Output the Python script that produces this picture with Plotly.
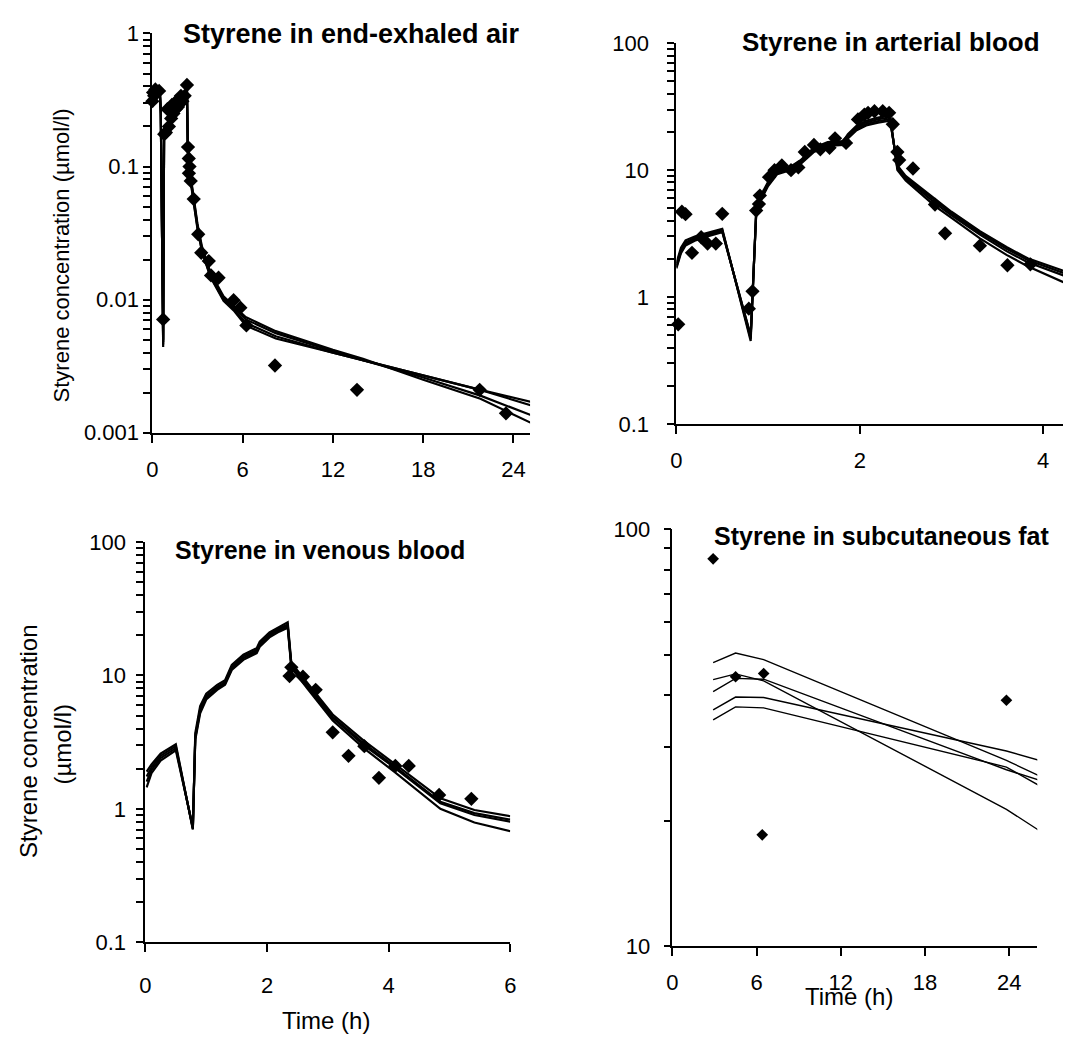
import plotly.graph_objects as go

W, H = 1069, 1048
FONT = "Liberation Sans"

# ---------------- Panel 1: end-exhaled air ----------------
p1_obs_t = [0.0, 0.05, 0.12, 0.2, 0.45, 0.72, 0.79, 0.9, 1.0, 1.1, 1.25, 1.3, 1.4, 1.55, 1.6, 1.7, 1.85, 1.9,
            2.0, 2.15, 2.3, 2.37, 2.42, 2.47, 2.43, 2.55, 2.75, 3.05, 3.25, 3.75, 3.9, 4.4, 5.4, 5.85, 6.25,
            8.15, 13.6, 21.75, 23.5]
p1_obs_v = [0.31, 0.36, 0.34, 0.38, 0.37, 0.0071, 0.175, 0.18, 0.27, 0.2, 0.23, 0.29, 0.25, 0.27, 0.31, 0.28,
            0.30, 0.34, 0.31, 0.34, 0.41, 0.14, 0.115, 0.10, 0.089, 0.078, 0.057, 0.031, 0.0225, 0.0195, 0.0152,
            0.0146, 0.0099, 0.0087, 0.0064, 0.0032, 0.0021, 0.0021, 0.0014]
p1_t = [0, 0.1, 0.3, 0.5, 0.56, 0.72, 0.78, 0.9, 1.2, 1.5, 1.8, 2.1, 2.3, 2.36, 2.5, 2.7, 3.0, 3.3, 3.86,
        4.73, 5.4, 6.2, 8.2, 12, 14, 18, 21.8, 25.2]
p1_a = [0.31, 0.34, 0.37, 0.38, 0.27, 0.0044, 0.18, 0.20, 0.23, 0.27, 0.31, 0.35, 0.39, 0.14, 0.092, 0.064,
        0.037, 0.025, 0.016, 0.0106, 0.0090, 0.0074, 0.0058, 0.0042, 0.0036, 0.0025, 0.0018, 0.00118]
p1_b = [0.30, 0.33, 0.36, 0.37, 0.26, 0.0046, 0.17, 0.19, 0.22, 0.26, 0.30, 0.34, 0.38, 0.135, 0.089, 0.062,
        0.036, 0.024, 0.0155, 0.0103, 0.0088, 0.0071, 0.0056, 0.0041, 0.0035, 0.0026, 0.0019, 0.00135]
p1_c = [0.29, 0.32, 0.35, 0.36, 0.25, 0.0048, 0.17, 0.19, 0.22, 0.26, 0.29, 0.33, 0.37, 0.13, 0.086, 0.060,
        0.035, 0.023, 0.015, 0.0100, 0.0085, 0.0067, 0.0053, 0.0040, 0.0035, 0.0027, 0.0021, 0.0016]
p1_d = [0.28, 0.31, 0.34, 0.35, 0.25, 0.0050, 0.16, 0.18, 0.21, 0.25, 0.29, 0.33, 0.36, 0.13, 0.084, 0.058,
        0.034, 0.023, 0.0148, 0.0098, 0.0083, 0.0064, 0.0051, 0.0040, 0.0035, 0.0027, 0.0021, 0.0017]

# ---------------- Panel 2: arterial blood ----------------
p2_obs_t = [0.02, 0.06, 0.1, 0.17, 0.27, 0.34, 0.43, 0.5, 0.79, 0.83, 0.87, 0.9, 0.91, 1.01, 1.07, 1.15, 1.25,
            1.33, 1.4, 1.5, 1.57, 1.67, 1.73, 1.85, 1.98, 2.05, 2.09, 2.16, 2.25, 2.32, 2.36, 2.41, 2.43, 2.58,
            2.82, 2.93, 3.31, 3.61, 3.86]
p2_obs_v = [0.61, 4.7, 4.5, 2.23, 2.96, 2.64, 2.64, 4.53, 0.81, 1.11, 4.8, 5.4, 6.3, 8.8, 10.0, 10.9, 10.0,
            10.5, 13.9, 15.8, 14.6, 15.0, 17.8, 16.4, 25.1, 27.4, 28.3, 29.1, 29.1, 28.3, 23.0, 13.9, 12.0, 10.3,
            5.35, 3.18, 2.54, 1.78, 1.81]
p2_t = [0, 0.05, 0.1, 0.2, 0.3, 0.4, 0.5, 0.81, 0.87, 0.92, 1.0, 1.1, 1.24, 1.35, 1.5, 1.65, 1.82, 1.87, 1.96,
        2.07, 2.2, 2.33, 2.41, 2.5, 2.6, 2.82, 3.0, 3.31, 3.6, 3.83, 4.22]
p2_a = [1.85, 2.45, 2.8, 3.0, 3.15, 3.3, 3.45, 0.45, 4.8, 6.3, 8.1, 9.9, 10.6, 11.9, 15.0, 16.6, 16.9, 19.2,
        22.2, 24.5, 26.0, 27.0, 10.0, 8.3, 7.2, 5.2, 4.2, 2.9, 2.15, 1.75, 1.31]
p2_b = [1.78, 2.35, 2.7, 2.92, 3.08, 3.22, 3.38, 0.47, 4.6, 6.1, 7.9, 9.7, 10.4, 11.6, 14.6, 16.2, 16.5, 18.7,
        21.6, 23.8, 25.2, 26.0, 10.3, 8.6, 7.5, 5.5, 4.4, 3.1, 2.3, 1.88, 1.48]
p2_c = [1.72, 2.28, 2.62, 2.85, 3.0, 3.15, 3.3, 0.49, 4.5, 5.9, 7.7, 9.5, 10.2, 11.3, 14.2, 15.8, 16.1, 18.2,
        21.0, 23.1, 24.4, 25.2, 10.6, 8.8, 7.7, 5.7, 4.55, 3.2, 2.4, 1.96, 1.55]
p2_d = [1.68, 2.22, 2.55, 2.78, 2.95, 3.1, 3.25, 0.50, 4.4, 5.8, 7.5, 9.3, 10.0, 11.1, 13.9, 15.5, 15.8, 17.8,
        20.5, 22.5, 23.7, 24.5, 10.9, 9.0, 7.9, 5.9, 4.7, 3.3, 2.48, 2.02, 1.61]

# ---------------- Panel 3: venous blood ----------------
p3_obs_t = [2.37, 2.4, 2.59, 2.8, 3.08, 3.34, 3.6, 3.84, 4.11, 4.33, 4.83, 5.36]
p3_obs_v = [9.9, 11.5, 9.8, 7.8, 3.75, 2.5, 2.95, 1.71, 2.1, 2.1, 1.27, 1.19]
p3_t = [0.02, 0.1, 0.25, 0.5, 0.78, 0.82, 0.9, 1.0, 1.18, 1.31, 1.42, 1.61, 1.83, 1.88, 2.04, 2.2, 2.34, 2.4,
        2.67, 3.08, 3.59, 4.09, 4.85, 5.41, 6.0]
p3_a = [1.9, 2.15, 2.6, 3.05, 0.70, 3.7, 5.9, 7.3, 8.5, 9.2, 12.0, 14.3, 16.0, 17.9, 21.0, 23.2, 25.0, 12.4,
        8.7, 5.1, 3.25, 2.2, 1.2, 0.98, 0.88]
p3_b = [1.75, 2.05, 2.5, 2.95, 0.71, 3.5, 5.6, 7.0, 8.2, 8.9, 11.6, 13.9, 15.5, 17.3, 20.4, 22.5, 24.0, 12.0,
        8.4, 4.9, 3.1, 2.1, 1.13, 0.93, 0.83]
p3_c = [1.6, 1.95, 2.4, 2.85, 0.72, 3.4, 5.4, 6.8, 8.0, 8.7, 11.3, 13.5, 15.1, 16.9, 19.9, 21.9, 23.4, 11.7,
        8.2, 4.8, 3.0, 2.05, 1.1, 0.9, 0.8]
p3_d = [1.45, 1.85, 2.3, 2.75, 0.73, 3.3, 5.2, 6.6, 7.8, 8.5, 11.0, 13.1, 14.7, 16.4, 19.3, 21.3, 22.8, 11.4,
        7.9, 4.6, 2.85, 1.9, 1.0, 0.79, 0.68]

# ---------------- Panel 4: subcutaneous fat ----------------
p4_obs_t = [2.9, 4.5, 6.4, 6.5, 23.8]
p4_obs_v = [85.0, 44.3, 18.5, 45.1, 38.9]
p4_t = [2.9, 4.5, 6.5, 23.8, 26.5]
p4_l1 = [47.9, 50.5, 48.7, 27.9, 25.3]
p4_l2 = [43.6, 45.0, 43.3, 21.3, 18.6]
p4_l3 = [40.8, 43.9, 43.7, 26.5, 24.8]
p4_l4 = [36.9, 39.6, 39.5, 29.4, 27.7]
p4_l5 = [34.9, 37.5, 37.3, 26.9, 23.9]

titles = ["Styrene in end-exhaled air", "Styrene in arterial blood",
          "Styrene in venous blood", "Styrene in subcutaneous fat"]
y_label = "Styrene concentration (µmol/l)"
y_label_l1 = "Styrene concentration"
y_label_l2 = "(µmol/l)"
x_label = "Time (h)"

p1_xticks = [0, 6, 12, 18, 24]
p2_xticks = [0, 2, 4]
p3_xticks = [0, 2, 4, 6]
p4_xticks = [0, 6, 12, 18, 24]


def log_ticks(lo_exp, hi_exp, labels):
    vals, text = [], []
    for e in range(lo_exp, hi_exp):
        for m in range(1, 10):
            vals.append(m * 10 ** e)
            text.append(labels[e - lo_exp] if m == 1 else "")
    vals.append(10 ** hi_exp)
    text.append(labels[-1])
    return vals, text


fig = go.Figure()


def px_x(p):
    return p / W


def px_y(p):
    return 1 - p / H


def add_panel(idx, tlist, curves, obs_t, obs_v, lw, msize):
    xa = "x" if idx == 1 else f"x{idx}"
    ya = "y" if idx == 1 else f"y{idx}"
    for c in curves:
        fig.add_trace(go.Scatter(x=tlist, y=c, mode="lines", xaxis=xa, yaxis=ya,
                                 line=dict(color="black", width=lw), showlegend=False,
                                 hoverinfo="skip"))
    fig.add_trace(go.Scatter(x=obs_t, y=obs_v, mode="markers", xaxis=xa, yaxis=ya,
                             marker=dict(symbol="diamond", size=msize, color="black",
                                         line=dict(width=0)),
                             showlegend=False, cliponaxis=False))


add_panel(1, p1_t, [p1_a, p1_b, p1_c, p1_d], p1_obs_t, p1_obs_v, 2.2, 11)
add_panel(2, p2_t, [p2_a, p2_b, p2_c, p2_d], p2_obs_t, p2_obs_v, 2.2, 11)
add_panel(3, p3_t, [p3_a, p3_b, p3_c, p3_d], p3_obs_t, p3_obs_v, 2.2, 11)
add_panel(4, p4_t, [p4_l1, p4_l2, p4_l3, p4_l4, p4_l5], p4_obs_t, p4_obs_v, 1.4, 9)

tickfont = dict(family=FONT, size=22, color="black")


def xaxis(dom, rng, ticks, anchor, lw, standoff):
    return dict(domain=dom, range=rng, tickvals=ticks, ticktext=[str(t) for t in ticks],
                anchor=anchor, showline=True, linecolor="black", linewidth=lw,
                ticks="outside", ticklen=8, tickwidth=lw, tickcolor="black",
                showgrid=False, zeroline=False, tickfont=tickfont,
                ticklabelstandoff=standoff)


def yaxis(dom, rng, vals, text, anchor, lw, standoff):
    return dict(domain=dom, range=rng, type="log", tickvals=vals, ticktext=text,
                anchor=anchor, showline=True, linecolor="black", linewidth=lw,
                ticks="outside", ticklen=7, tickwidth=lw, tickcolor="black",
                showgrid=False, zeroline=False, tickfont=tickfont,
                ticklabelstandoff=standoff)


v1, t1 = log_ticks(-3, 0, ["0.001", "0.01", "0.1", "1"])
v2, t2 = log_ticks(-1, 2, ["0.1", "1", "10", "100"])
v4, t4 = log_ticks(1, 2, ["10", "100"])

fig.update_layout(
    width=W, height=H, margin=dict(l=0, r=0, t=0, b=0),
    paper_bgcolor="white", plot_bgcolor="white",
    xaxis=xaxis([px_x(148), px_x(530)], [0, 25.1], p1_xticks, "y", 2, 8),
    yaxis=yaxis([px_y(431), px_y(22)], [-3, 0], v1, t1, "x", 2, 0),
    xaxis2=xaxis([px_x(678), 1.0], [0, 4.216], p2_xticks, "y2", 2, 8),
    yaxis2=yaxis([px_y(422), px_y(32)], [-1, 2], v2, t2, "x2", 2, 14),
    xaxis3=xaxis([px_x(141), px_x(510)], [0, 6], p3_xticks, "y3", 2, 14),
    yaxis3=yaxis([px_y(953), px_y(543)], [-1, 2], v2, t2, "x3", 2, 6),
    xaxis4=xaxis([px_x(674), px_x(1043)], [0, 26], p4_xticks, "y4", 1.5, 8),
    yaxis4=yaxis([px_y(957), px_y(530)], [1, 2], v4, t4, "x4", 1.5, 9),
)

ann = []
title_pos = [(349, 23), (895, 31), (318, 551), (885, 537)]
title_sizes = [27, 26, 25, 25]
for txt, (cx, cy), fs in zip(titles, title_pos, title_sizes):
    ann.append(dict(text=f"<b>{txt}</b>", x=px_x(cx), y=px_y(cy), xref="paper", yref="paper",
                    xanchor="center", yanchor="middle", showarrow=False,
                    font=dict(family=FONT, size=fs, color="black")))
ann.append(dict(text=y_label, x=px_x(56), y=px_y(249), xref="paper", yref="paper",
                xanchor="center", yanchor="middle", textangle=-90, showarrow=False,
                font=dict(family=FONT, size=22, color="black")))
ann.append(dict(text=y_label_l1, x=px_x(22), y=px_y(747), xref="paper", yref="paper",
                xanchor="center", yanchor="middle", textangle=-90, showarrow=False,
                font=dict(family=FONT, size=24, color="black")))
ann.append(dict(text=y_label_l2, x=px_x(57), y=px_y(750), xref="paper", yref="paper",
                xanchor="center", yanchor="middle", textangle=-90, showarrow=False,
                font=dict(family=FONT, size=24, color="black")))
ann.append(dict(text=x_label, x=px_x(324), y=px_y(1033), xref="paper", yref="paper",
                xanchor="center", yanchor="middle", showarrow=False,
                font=dict(family=FONT, size=24, color="black")))
ann.append(dict(text=x_label, x=px_x(853), y=px_y(1009), xref="paper", yref="paper",
                xanchor="center", yanchor="middle", showarrow=False,
                font=dict(family=FONT, size=24, color="black")))
fig.update_layout(annotations=ann)

fig.write_html("out.html")
